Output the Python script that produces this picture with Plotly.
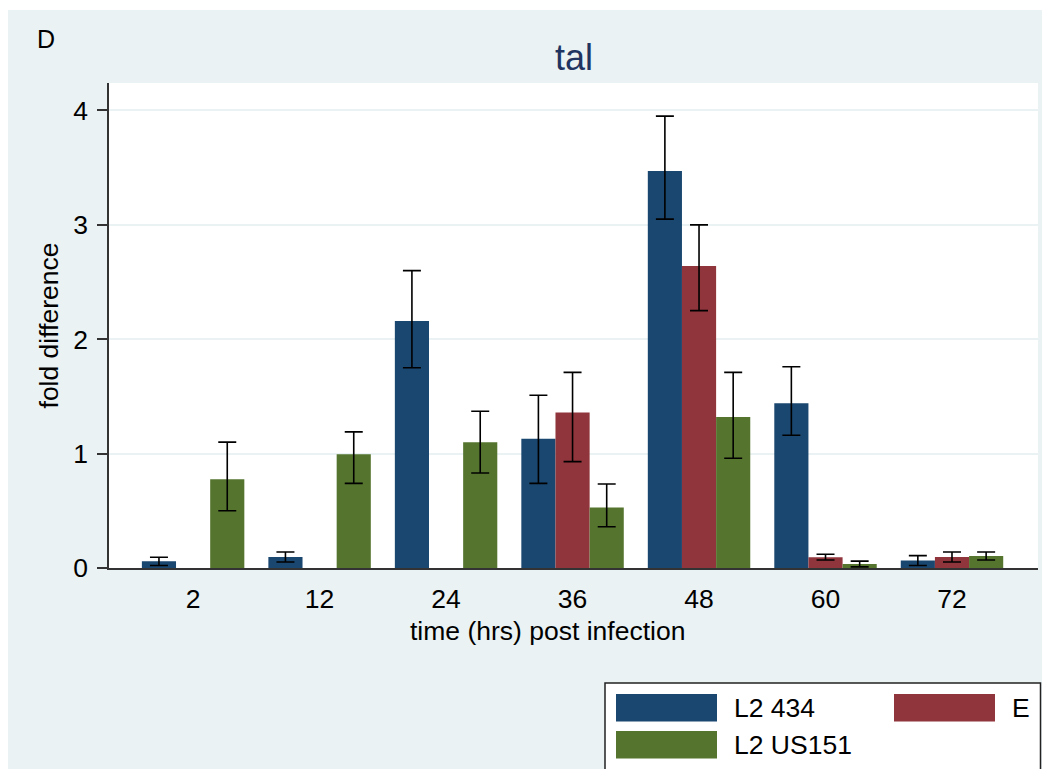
import plotly.graph_objects as go

# ---- data ----
times = ["2", "12", "24", "36", "48", "60", "72"]
series_names = ["L2 434", "E", "L2 US151"]
series_colors = ["#1A476F", "#90353B", "#55752F"]

l2_434 = [0.058, 0.096, 2.16, 1.13, 3.47, 1.44, 0.065]
l2_434_hi = [0.094, 0.14, 2.60, 1.51, 3.95, 1.76, 0.108]
l2_434_lo = [0.022, 0.052, 1.75, 0.74, 3.05, 1.16, 0.022]

e_vals = [None, None, None, 1.36, 2.64, 0.095, 0.096]
e_hi = [None, None, None, 1.71, 3.00, 0.12, 0.14]
e_lo = [None, None, None, 0.93, 2.25, 0.07, 0.052]

us151 = [0.775, 0.994, 1.10, 0.53, 1.32, 0.035, 0.105]
us151_hi = [1.10, 1.19, 1.37, 0.735, 1.71, 0.06, 0.14]
us151_lo = [0.50, 0.74, 0.83, 0.36, 0.96, 0.01, 0.07]

values = [l2_434, e_vals, us151]
highs = [l2_434_hi, e_hi, us151_hi]
lows = [l2_434_lo, e_lo, us151_lo]

x_title = "time (hrs) post infection"
y_title = "fold difference"
main_title = "tal"
panel_label = "D"

FONT = "Liberation Sans, Arial, Helvetica, sans-serif"
BG = "#EAF2F3"

# page offset of the figure (browser body margin)
OX, OY = 8, 8
W, H = 1050, 769
# plot area in page pixels
L, R, T, B = 109, 1038, 83, 568
PW, PH = R - L, B - T


def px(x):
    return (x - L) / PW


def py(y):
    return (B - y) / PH


fig = go.Figure()
for name, col, v, hi, lo in zip(series_names, series_colors, values, highs, lows):
    plus = [None if a is None else round(h - a, 4) for a, h in zip(v, hi)]
    minus = [None if a is None else round(a - l, 4) for a, l in zip(v, lo)]
    fig.add_trace(go.Bar(
        x=times, y=v, name=name,
        marker=dict(color=col, line=dict(width=0)),
        error_y=dict(type="data", symmetric=False, array=plus, arrayminus=minus,
                     color="black", thickness=1.6, width=9),
        showlegend=False,
    ))

shapes = [
    # thin white strip at the very top
    dict(type="rect", xref="paper", yref="paper", x0=px(0), x1=px(1100), y0=py(10), y1=py(0),
         fillcolor="white", line=dict(width=0), layer="above"),
    # legend box
    dict(type="rect", xref="paper", yref="paper", x0=px(605), x1=px(1040.5), y0=py(790), y1=py(683),
         fillcolor="white", line=dict(color="#222222", width=1.5), layer="above"),
]
annotations = [
    dict(text=main_title, xref="paper", yref="paper", x=0.5, y=py(58), xanchor="center", yanchor="middle",
         showarrow=False, font=dict(family=FONT, size=36, color="#1F3461")),
    dict(text=panel_label, xref="paper", yref="paper", x=px(35), y=py(39), xanchor="left", yanchor="middle",
         showarrow=False, font=dict(family=FONT, size=25, color="black")),
    dict(text=x_title, xref="paper", yref="paper", x=px(547), y=py(631), xanchor="center", yanchor="middle",
         showarrow=False, font=dict(family=FONT, size=26.5, color="black")),
]

# legend entries (two columns, row-major like Stata)
leg_pos = [(616, 694), (894, 694), (616, 731)]
for (name, col), (lx, ly) in zip(zip(series_names, series_colors), leg_pos):
    shapes.append(dict(type="rect", xref="paper", yref="paper", x0=px(lx), x1=px(lx + 101),
                       y0=py(ly + 27.5), y1=py(ly), fillcolor=col, line=dict(width=0), layer="above"))
    annotations.append(dict(text=name, xref="paper", yref="paper", x=px(lx + 116), y=py(ly + 14),
                            xanchor="left", yanchor="middle", showarrow=False,
                            font=dict(family=FONT, size=26.5, color="black")))

fig.update_layout(
    width=W, height=H,
    margin=dict(l=L - OX, r=W - (R - OX), t=T - OY, b=H - (B - OY), pad=0),
    paper_bgcolor=BG, plot_bgcolor="white",
    barmode="group", bargap=0.19, bargroupgap=0,
    font=dict(family=FONT, size=26.5, color="black"),
    shapes=shapes, annotations=annotations,
    showlegend=False,
    xaxis=dict(type="category", range=[-0.665, 6.68], showgrid=False, ticks="",
               showline=True, linecolor="#333333", linewidth=1.6,
               tickfont=dict(size=26.5), ticklabelstandoff=6),
    yaxis=dict(range=[0, 4.24], tickvals=[0, 1, 2, 3, 4], ticks="outside", ticklen=10,
               tickwidth=1.5, tickcolor="#333333", showline=True, linecolor="#333333", linewidth=1.6,
               showgrid=True, gridcolor=BG, gridwidth=2, zeroline=False,
               tickfont=dict(size=26.5), ticklabelstandoff=4,
               title=dict(text=y_title, standoff=7, font=dict(size=26.5))),
)

fig.write_html("out.html")
